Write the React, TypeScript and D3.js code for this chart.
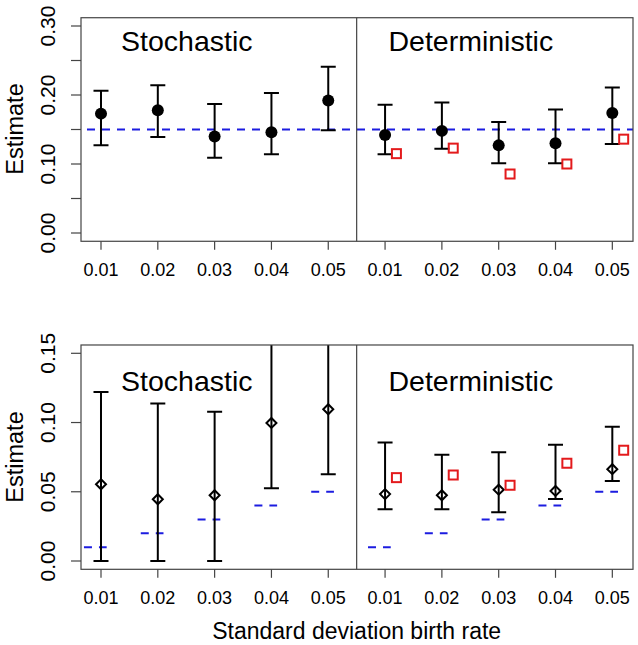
import React, { useEffect, useRef } from "react";
import * as d3 from "d3";

// x positions 1..10: five stochastic runs, then five deterministic runs
const xIndex = [1, 2, 3, 4, 5, 6, 7, 8, 9, 10];
const xLabels = ["0.01", "0.02", "0.03", "0.04", "0.05", "0.01", "0.02", "0.03", "0.04", "0.05"];
const detIndex = [6, 7, 8, 9, 10];

// top panel
const topEst = [0.173, 0.178, 0.14, 0.146, 0.192, 0.142, 0.148, 0.127, 0.13, 0.174];
const topLo = [0.127, 0.139, 0.109, 0.114, 0.149, 0.114, 0.122, 0.101, 0.101, 0.129];
const topHi = [0.206, 0.214, 0.187, 0.203, 0.241, 0.186, 0.189, 0.161, 0.179, 0.211];
const topAlt = [0.115, 0.123, 0.0855, 0.1, 0.136];
const topTrue = 0.15;
const topTicks = [0, 0.05, 0.1, 0.15, 0.2, 0.25, 0.3];
const topTickLabels = ["0.00", "", "0.10", "", "0.20", "", "0.30"];

// bottom panel
const botEst = [0.0554, 0.0446, 0.0475, 0.0997, 0.1096, 0.0483, 0.0475, 0.0515, 0.0506, 0.0663];
const botLo = [0, 0, 0, 0.0525, 0.0626, 0.0373, 0.0373, 0.0352, 0.0448, 0.0578];
const botHi = [0.122, 0.1137, 0.1077, 0.17, 0.18, 0.0855, 0.0768, 0.0785, 0.084, 0.097];
const botAlt = [0.0602, 0.0621, 0.0547, 0.0706, 0.08];
const botTrue = [0.01, 0.02, 0.03, 0.04, 0.05, 0.01, 0.02, 0.03, 0.04, 0.05];
const botTicks = [0, 0.05, 0.1, 0.15];
const botTickLabels = ["0.00", "0.05", "0.10", "0.15"];

const panelTitles = ["Stochastic", "Deterministic"];
const FONT = "'Liberation Sans', Arial, Helvetica, sans-serif";
const BLUE = "#1c1ce0";
const RED = "#e31a1c";

export default function App() {
  const ref = useRef<SVGSVGElement>(null);

  useEffect(() => {
    const svg = d3.select(ref.current);
    svg.selectAll("*").remove();

    const x = d3.scaleLinear().domain([0.648, 10.364]).range([81, 633]);

    const drawPanel = (opts: any) => {
      const { id, y, yLo, yHi, est, lo, hi, alt, ticks, tickLabels, point, titleY, xLabelY, estY } = opts;
      const g = svg.append("g");
      const top = y(yHi);
      const bottom = y(yLo);
      const left = x.range()[0];
      const right = x.range()[1];

      g.append("clipPath")
        .attr("id", id)
        .append("rect")
        .attr("x", left)
        .attr("y", top)
        .attr("width", right - left)
        .attr("height", bottom - top);
      const inner = g.append("g").attr("clip-path", `url(#${id})`);

      // reference values
      if (opts.trueLine !== undefined) {
        inner
          .append("line")
          .attr("x1", left)
          .attr("x2", right)
          .attr("y1", y(opts.trueLine))
          .attr("y2", y(opts.trueLine))
          .attr("stroke", BLUE)
          .attr("stroke-width", 2)
          .attr("stroke-dasharray", "8,7")
          .attr("stroke-dashoffset", -6);
      }
      if (opts.trueVals) {
        inner
          .selectAll("line.truth")
          .data(opts.trueVals)
          .enter()
          .append("line")
          .attr("x1", (_d: number, i: number) => x(xIndex[i] - 0.3))
          .attr("x2", (_d: number, i: number) => x(xIndex[i] + 0.1))
          .attr("y1", (d: number) => y(d))
          .attr("y2", (d: number) => y(d))
          .attr("stroke", BLUE)
          .attr("stroke-width", 2)
          .attr("stroke-dasharray", "8,7");
      }

      // error bars
      const bars = inner.selectAll("g.bar").data(xIndex).enter().append("g");
      bars
        .append("line")
        .attr("x1", (d: number) => x(d))
        .attr("x2", (d: number) => x(d))
        .attr("y1", (_d: number, i: number) => y(lo[i]))
        .attr("y2", (_d: number, i: number) => y(hi[i]))
        .attr("stroke", "#000")
        .attr("stroke-width", 2);
      [lo, hi].forEach((arr: number[]) => {
        bars
          .append("line")
          .attr("x1", (d: number) => x(d) - 7.5)
          .attr("x2", (d: number) => x(d) + 7.5)
          .attr("y1", (_d: number, i: number) => y(arr[i]))
          .attr("y2", (_d: number, i: number) => y(arr[i]))
          .attr("stroke", "#000")
          .attr("stroke-width", 2);
      });

      // estimates
      if (point === "circle") {
        inner
          .selectAll("circle.est")
          .data(est)
          .enter()
          .append("circle")
          .attr("cx", (_d: number, i: number) => x(xIndex[i]))
          .attr("cy", (d: number) => y(d))
          .attr("r", 6)
          .attr("fill", "#000");
      } else {
        inner
          .selectAll("path.est")
          .data(est)
          .enter()
          .append("path")
          .attr("d", (d: number, i: number) => {
            const cx = x(xIndex[i]);
            const cy = y(d);
            const r = 5;
            return `M${cx},${cy - r}L${cx + r},${cy}L${cx},${cy + r}L${cx - r},${cy}Z`;
          })
          .attr("fill", "none")
          .attr("stroke", "#000")
          .attr("stroke-width", 2);
      }

      // alternative estimates (deterministic only)
      inner
        .selectAll("rect.alt")
        .data(alt)
        .enter()
        .append("rect")
        .attr("x", (_d: number, i: number) => x(detIndex[i] + 0.2) - 4.5)
        .attr("y", (d: number) => y(d) - 4.5)
        .attr("width", 9)
        .attr("height", 9)
        .attr("fill", "none")
        .attr("stroke", RED)
        .attr("stroke-width", 2);

      // box and divider
      g.append("rect")
        .attr("x", left)
        .attr("y", top)
        .attr("width", right - left)
        .attr("height", bottom - top)
        .attr("fill", "none")
        .attr("stroke", "#444")
        .attr("stroke-width", 1.2);
      g.append("line")
        .attr("x1", x(5.5))
        .attr("x2", x(5.5))
        .attr("y1", top)
        .attr("y2", bottom)
        .attr("stroke", "#444")
        .attr("stroke-width", 1.2);

      // panel titles
      g.selectAll("text.title")
        .data(panelTitles)
        .enter()
        .append("text")
        .attr("x", (_d: string, i: number) => x(i === 0 ? 2.51 : 7.51))
        .attr("y", y(titleY))
        .attr("text-anchor", "middle")
        .style("font-family", FONT)
        .style("font-size", "28.5px")
        .text((d: string) => d);

      // y axis
      ticks.forEach((t: number, i: number) => {
        g.append("line")
          .attr("x1", left - 10)
          .attr("x2", left)
          .attr("y1", y(t))
          .attr("y2", y(t))
          .attr("stroke", "#444")
          .attr("stroke-width", 1.2);
        if (tickLabels[i]) {
          g.append("text")
            .attr("transform", `translate(55,${y(t)}) rotate(-90)`)
            .attr("text-anchor", "middle")
            .style("font-family", FONT)
            .style("font-size", "21px")
            .text(tickLabels[i]);
        }
      });

      // x axis
      xIndex.forEach((d: number, i: number) => {
        g.append("line")
          .attr("x1", x(d))
          .attr("x2", x(d))
          .attr("y1", bottom)
          .attr("y2", bottom + 8.5)
          .attr("stroke", "#444")
          .attr("stroke-width", 1.2);
        g.append("text")
          .attr("x", x(d))
          .attr("y", xLabelY)
          .attr("text-anchor", "middle")
          .style("font-family", FONT)
          .style("font-size", "18px")
          .text(xLabels[i]);
      });

      g.append("text")
        .attr("transform", `translate(22.5,${estY}) rotate(-90)`)
        .attr("text-anchor", "middle")
        .style("font-family", FONT)
        .style("font-size", "23.5px")
        .text("Estimate");
    };

    const yTop = d3.scaleLinear().domain([0, 0.3]).range([233, 26]);
    drawPanel({
      id: "clipTop",
      y: yTop,
      yLo: -0.012,
      yHi: 0.312,
      est: topEst,
      lo: topLo,
      hi: topHi,
      alt: topAlt,
      trueLine: topTrue,
      ticks: topTicks,
      tickLabels: topTickLabels,
      point: "circle",
      titleY: 0.264,
      xLabelY: 276,
      estY: 129,
    });

    const yBot = d3.scaleLinear().domain([0, 0.15]).range([561, 353.3]);
    drawPanel({
      id: "clipBot",
      y: yBot,
      yLo: -0.006,
      yHi: 0.156,
      est: botEst,
      lo: botLo,
      hi: botHi,
      alt: botAlt,
      trueVals: botTrue,
      ticks: botTicks,
      tickLabels: botTickLabels,
      point: "diamond",
      titleY: 0.1225,
      xLabelY: 603.5,
      estY: 457,
    });

    svg
      .append("text")
      .attr("x", x(5.5))
      .attr("y", 639)
      .attr("text-anchor", "middle")
      .style("font-family", FONT)
      .style("font-size", "23px")
      .text("Standard deviation birth rate");
  }, []);

  return (
    <svg
      ref={ref}
      width={638}
      height={645}
      style={{ position: "absolute", left: 0, top: 0, background: "#fff" }}
    />
  );
}
